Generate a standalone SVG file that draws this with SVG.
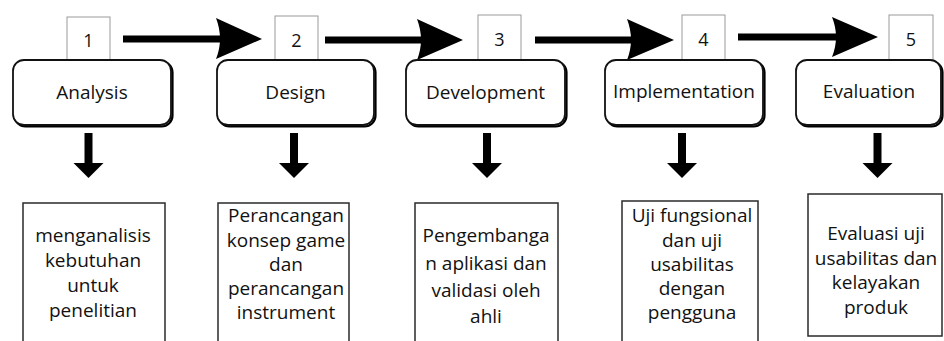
<svg xmlns="http://www.w3.org/2000/svg" width="944" height="341" viewBox="0 0 944 341">
<defs>
<style>
.num{fill:#fff;stroke:#9a9a9a;stroke-width:1}
.phase{fill:#fff;stroke:#111;stroke-width:1.8}
.shadow{fill:none;stroke:#000;stroke-width:2.2}
.desc{fill:#fff;stroke:#2a2a2a;stroke-width:1.5}
text{font-family:"Open Sans","Noto Sans","DejaVu Sans",sans-serif;fill:#111;text-anchor:middle}
.t-num{font-size:18px}
.t-phase{font-size:19px}
.t-desc{font-size:19px}
.shaft{stroke:#000;fill:none}
.head{fill:#000}
</style>
</defs>
<rect width="944" height="341" fill="#fff"/>

<g id="connectors">
  <g id="arrow-1-2">
    <line class="shaft" x1="123" y1="39" x2="222" y2="39" stroke-width="7"/>
    <path class="head" d="M216,18 L262,39 L216,59 Q224,39 216,18 Z"/>
  </g>
  <g id="arrow-2-3">
    <line class="shaft" x1="325" y1="40" x2="422" y2="40" stroke-width="7"/>
    <path class="head" d="M417,19 L463,40 L417,60 Q425,40 417,19 Z"/>
  </g>
  <g id="arrow-3-4">
    <line class="shaft" x1="535" y1="40" x2="632" y2="40" stroke-width="7"/>
    <path class="head" d="M627,19 L674,40 L627,60 Q635,40 627,19 Z"/>
  </g>
  <g id="arrow-4-5">
    <line class="shaft" x1="738" y1="37" x2="838" y2="37" stroke-width="7"/>
    <path class="head" d="M832,17 L878,37 L832,57 Q840,37 832,17 Z"/>
  </g>
  <g id="down-1">
    <line class="shaft" x1="88.5" y1="133" x2="88.5" y2="164" stroke-width="8"/>
    <path class="head" d="M73.5,163 L103.5,163 L88.5,178 Z"/>
  </g>
  <g id="down-2">
    <line class="shaft" x1="294" y1="133" x2="294" y2="164" stroke-width="8"/>
    <path class="head" d="M279,163 L309,163 L294,178 Z"/>
  </g>
  <g id="down-3">
    <line class="shaft" x1="487" y1="133" x2="487" y2="164" stroke-width="8"/>
    <path class="head" d="M472,163 L502,163 L487,178 Z"/>
  </g>
  <g id="down-4">
    <line class="shaft" x1="682" y1="133" x2="682" y2="164" stroke-width="8"/>
    <path class="head" d="M667,163 L697,163 L682,178 Z"/>
  </g>
  <g id="down-5">
    <line class="shaft" x1="877.5" y1="133" x2="877.5" y2="164" stroke-width="8"/>
    <path class="head" d="M862.5,163 L892.5,163 L877.5,178 Z"/>
  </g>
</g>

<g id="step-1">
  <rect class="num" x="67" y="17" width="43" height="43"/>
  <text class="t-num" x="88.5" y="47">1</text>
  <rect class="shadow" x="14.5" y="61.5" width="158" height="65" rx="11"/>
  <rect class="phase" x="13" y="60" width="158" height="65" rx="11"/>
  <text class="t-phase" x="92" y="99">Analysis</text>
</g>
<g id="step-2">
  <rect class="num" x="275" y="16" width="43" height="44"/>
  <text class="t-num" x="296.5" y="47">2</text>
  <rect class="shadow" x="218.5" y="61.5" width="157" height="65" rx="11"/>
  <rect class="phase" x="217" y="60" width="157" height="65" rx="11"/>
  <text class="t-phase" x="295.5" y="99">Design</text>
</g>
<g id="step-3">
  <rect class="num" x="478" y="15" width="43" height="45"/>
  <text class="t-num" x="499.5" y="46">3</text>
  <rect class="shadow" x="407.5" y="61.5" width="159" height="65" rx="11"/>
  <rect class="phase" x="406" y="60" width="159" height="65" rx="11"/>
  <text class="t-phase" x="485.5" y="99">Development</text>
</g>
<g id="step-4">
  <rect class="num" x="682" y="15" width="43" height="45"/>
  <text class="t-num" x="703.5" y="46">4</text>
  <rect class="shadow" x="606.5" y="61.5" width="158" height="65" rx="11"/>
  <rect class="phase" x="605" y="60" width="158" height="65" rx="11"/>
  <text class="t-phase" x="684" y="98">Implementation</text>
</g>
<g id="step-5">
  <rect class="num" x="889" y="15" width="44" height="45"/>
  <text class="t-num" x="911" y="46">5</text>
  <rect class="shadow" x="797.5" y="61.5" width="145" height="65" rx="11"/>
  <rect class="phase" x="796" y="60" width="145" height="65" rx="11"/>
  <text class="t-phase" x="869" y="98">Evaluation</text>
</g>

<g id="desc-1">
  <rect class="desc" x="23" y="203" width="142" height="150"/>
  <text class="t-desc" x="93" y="242">menganalisis</text>
  <text class="t-desc" x="93" y="267">kebutuhan</text>
  <text class="t-desc" x="93" y="292">untuk</text>
  <text class="t-desc" x="93" y="316.5">penelitian</text>
</g>
<g id="desc-2">
  <rect class="desc" x="218" y="203" width="131" height="150"/>
  <text class="t-desc" x="286" y="222">Perancangan</text>
  <text class="t-desc" x="286" y="246.5">konsep game</text>
  <text class="t-desc" x="286" y="271">dan</text>
  <text class="t-desc" x="286" y="295">perancangan</text>
  <text class="t-desc" x="286" y="319">instrument</text>
</g>
<g id="desc-3">
  <rect class="desc" x="415" y="203" width="143" height="150"/>
  <text class="t-desc" x="486" y="242">Pengembanga</text>
  <text class="t-desc" x="486" y="270">n aplikasi dan</text>
  <text class="t-desc" x="486" y="297">validasi oleh</text>
  <text class="t-desc" x="486" y="323">ahli</text>
</g>
<g id="desc-4">
  <rect class="desc" x="622" y="201" width="136" height="150"/>
  <text class="t-desc" x="692" y="222">Uji fungsional</text>
  <text class="t-desc" x="692" y="246.5">dan uji</text>
  <text class="t-desc" x="692" y="271">usabilitas</text>
  <text class="t-desc" x="692" y="295">dengan</text>
  <text class="t-desc" x="692" y="319">pengguna</text>
</g>
<g id="desc-5">
  <rect class="desc" x="808" y="194" width="134" height="142"/>
  <text class="t-desc" x="876" y="240">Evaluasi uji</text>
  <text class="t-desc" x="876" y="264.5">usabilitas dan</text>
  <text class="t-desc" x="876" y="289">kelayakan</text>
  <text class="t-desc" x="876" y="313.5">produk</text>
</g>
</svg>
